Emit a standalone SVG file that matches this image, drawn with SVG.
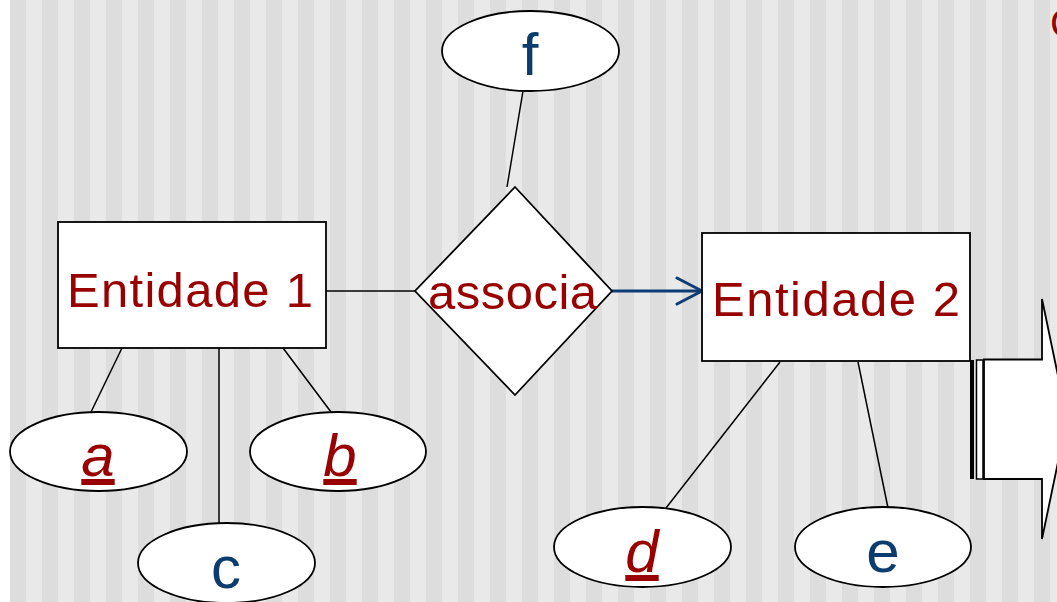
<svg xmlns="http://www.w3.org/2000/svg" width="1057" height="602" viewBox="0 0 1057 602">
<defs>
<pattern id="stripes" x="10" y="0" width="32" height="602" patternUnits="userSpaceOnUse">
<rect x="0" y="0" width="16" height="602" fill="#dddddd"/>
<rect x="16" y="0" width="16" height="602" fill="#e9e9e9"/>
</pattern>
<marker id="open" viewBox="0 0 30 30" refX="27" refY="15" markerWidth="30" markerHeight="30" markerUnits="userSpaceOnUse" orient="auto">
<path d="M2,2 L27,15 L2,28" fill="none" stroke="#0b3c73" stroke-width="3" stroke-linecap="round" stroke-linejoin="round"/>
</marker>
</defs>
<style>
.shape{fill:#ffffff;stroke:#000000;stroke-width:1.8}
.line{stroke:#000000;stroke-width:1.5;fill:none}
.red{fill:#990000;font-family:"Liberation Sans",Arial,sans-serif}
.blue{fill:#0b3c6e;font-family:"Liberation Sans",Arial,sans-serif}
.big{font-size:49px}
.key{font-size:60px;font-style:italic;text-decoration:underline}
.attr{font-size:60px}
</style>
<rect x="0" y="0" width="1057" height="602" fill="#ffffff"/>
<rect x="10" y="0" width="1047" height="602" fill="url(#stripes)"/>
<g id="connectors">
<line class="line" x1="326" y1="291" x2="415" y2="291"/>
<line x1="612" y1="291" x2="702" y2="291" stroke="#0b3c73" stroke-width="3" marker-end="url(#open)"/>
<line class="line" x1="523" y1="91" x2="507" y2="187"/>
<line class="line" x1="122" y1="348" x2="91" y2="412"/>
<line class="line" x1="219" y1="348" x2="219" y2="523"/>
<line class="line" x1="283" y1="348" x2="331" y2="412"/>
<line class="line" x1="780" y1="362" x2="666" y2="508"/>
<line class="line" x1="858" y1="362" x2="888" y2="508"/>
</g>
<g id="entidade1">
<rect class="shape" x="58" y="222" width="268" height="126"/>
<text class="red big" x="67" y="307" textLength="246" lengthAdjust="spacing">Entidade 1</text>
</g>
<g id="associa">
<polygon class="shape" points="515,187 612,291 515,395 415,291"/>
<text class="red big" x="428" y="309" textLength="169" lengthAdjust="spacing">associa</text>
</g>
<g id="entidade2">
<rect class="shape" x="702" y="233" width="268" height="128"/>
<text class="red big" x="712" y="316" textLength="248" lengthAdjust="spacing">Entidade 2</text>
</g>
<g id="attr-f">
<ellipse class="shape" cx="530.5" cy="51" rx="88.5" ry="40"/>
<text class="blue attr" x="530" y="75" text-anchor="middle">f</text>
</g>
<g id="attr-a">
<ellipse class="shape" cx="98.5" cy="451.5" rx="88.5" ry="39.5"/>
<text class="red key" x="98" y="476" text-anchor="middle">a</text>
</g>
<g id="attr-b">
<ellipse class="shape" cx="338" cy="451.5" rx="88" ry="39.5"/>
<text class="red key" x="340" y="476" text-anchor="middle">b</text>
</g>
<g id="attr-c">
<ellipse class="shape" cx="226.5" cy="563" rx="88.5" ry="40"/>
<text class="blue attr" x="226" y="588" text-anchor="middle">c</text>
</g>
<g id="attr-d">
<ellipse class="shape" cx="642.5" cy="547" rx="88.5" ry="40"/>
<text class="red key" x="642" y="572" text-anchor="middle">d</text>
</g>
<g id="attr-e">
<ellipse class="shape" cx="883" cy="547" rx="88" ry="40"/>
<text class="blue attr" x="883" y="572" text-anchor="middle">e</text>
</g>
<g id="striped-arrow">
<rect x="970" y="360" width="4" height="119" fill="#000000"/>
<rect x="976.5" y="360" width="6.5" height="119" fill="#ffffff" stroke="#000000" stroke-width="1.5"/>
<polygon class="shape" points="984,359.5 1042,359.5 1042,299 1067,419 1042,539 1042,479 984,479"/>
</g>
<text class="red" x="1050" y="37" font-size="40">C</text>
</svg>
